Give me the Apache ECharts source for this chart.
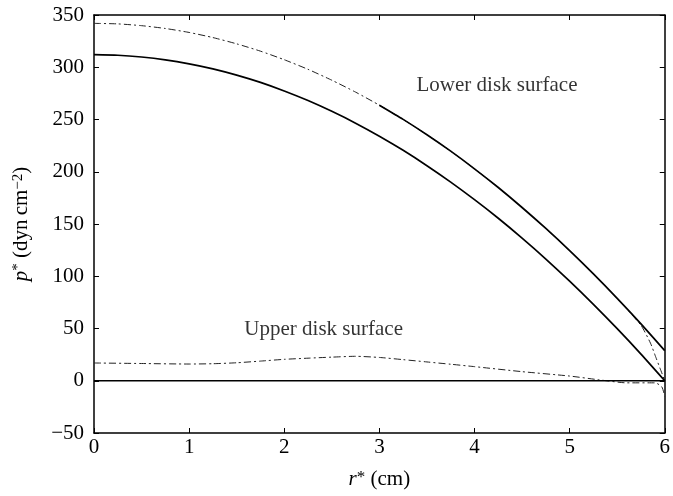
<!DOCTYPE html>
<html>
<head>
<meta charset="utf-8">
<script src="https://cdn.jsdelivr.net/npm/echarts@6/dist/echarts.min.js"></script>
<style>html,body{margin:0;padding:0;background:#fff}#c{width:673px;height:496px}</style>
</head>
<body>
<div id="c"></div>
<script>
// r* (cm) positions and p* values
var rGrid = [0, 0.25, 0.5, 0.75, 1, 1.25, 1.5, 1.75, 2, 2.25, 2.5, 2.75, 3, 3.25, 3.5, 3.75, 4, 4.25, 4.5, 4.75, 5, 5.25, 5.5, 5.75, 6];
var lowerInnerSolid = [312, 311.5, 309.8, 307.1, 303.3, 298.5, 292.5, 285.5, 277.3, 268.1, 257.8, 246.5, 234, 220.5, 205.8, 190.1, 173.3, 155.5, 136.5, 116.5, 95.3, 73.1, 49.8, 25.5, 0];

var rOuterSolid = [3, 3.25, 3.5, 3.75, 4, 4.25, 4.5, 4.75, 5, 5.25, 5.5, 5.75, 6];
var lowerOuterSolid = [263.7, 250.1, 235.4, 219.7, 202.8, 184.9, 165.8, 145.7, 124.5, 102.2, 78.8, 54.4, 28.8];

var rOuterDash = [0, 0.25, 0.5, 0.75, 1, 1.25, 1.5, 1.75, 2, 2.25, 2.5, 2.75, 3, 3.25, 3.5, 3.75, 4, 4.25, 4.5, 4.75, 5, 5.25, 5.5, 5.75, 5.85, 5.9, 5.95, 6];
var lowerOuterDash = [342, 341.5, 339.8, 337.1, 333.3, 328.4, 322.4, 315.4, 307.2, 298, 287.6, 276.2, 263.7, 250.1, 235.4, 219.7, 202.8, 184.9, 165.8, 145.7, 124.5, 102.2, 78.8, 53, 36, 24, 12, 0];

var rUpperDash = [0, 0.5, 1, 1.25, 1.5, 1.75, 2, 2.25, 2.5, 2.75, 3, 3.25, 3.5, 3.75, 4, 4.5, 5, 5.3, 5.6, 5.9, 5.97, 6];
var upperDash = [17, 16.5, 16, 16.3, 17.2, 18.8, 20.5, 21.6, 22.6, 23.4, 22.3, 20.2, 18, 15.8, 13.5, 8.7, 4.5, 1, -2, -2, -6, -15];

var rUpperSolid = [0, 6];
var upperSolid = [0, 0];

var xTicks = [0, 1, 2, 3, 4, 5, 6];
var yTicks = [-50, 0, 50, 100, 150, 200, 250, 300, 350];

var labelLower = 'Lower disk surface';
var labelUpper = 'Upper disk surface';
var labelPos = [[3.38, 283], [1.57, 49]];

function pairs(xs, ys) { return xs.map(function (x, i) { return [x, ys[i]]; }); }

var FONT = '"Liberation Serif", "Times New Roman", serif';
var chart = echarts.init(document.getElementById('c'), null, { renderer: 'canvas' });

var axisLine = { show: true, onZero: false, lineStyle: { color: '#000', width: 1.5 } };
var tick = { show: true, inside: true, length: 5, lineStyle: { color: '#000', width: 1 } };

var solid = { color: '#000', width: 1.7, type: 'solid' };
var dash = { color: '#222', width: 1, type: [7, 3, 2, 3] };

function line(xs, ys, style, z) {
  return { type: 'line', data: pairs(xs, ys), showSymbol: false, smooth: 0.2, lineStyle: style, z: z, silent: true };
}

chart.setOption({
  animation: false,
  backgroundColor: '#fff',
  grid: { left: 94, right: 3, top: 15, bottom: 63, containLabel: false },
  xAxis: [{
    type: 'value', min: xTicks[0], max: xTicks[xTicks.length - 1], interval: 1,
    axisLine: axisLine, axisTick: tick, splitLine: { show: false },
    axisLabel: { color: '#000', fontFamily: FONT, fontSize: 21, margin: 4 },
    name: '{i|r}{s|*} (cm)', nameLocation: 'middle', nameGap: 36,
    nameTextStyle: { color: '#000', fontFamily: FONT, fontSize: 21,
      rich: { i: { fontStyle: 'italic', fontFamily: FONT, fontSize: 21 }, s: { fontFamily: FONT, fontSize: 17, verticalAlign: 'top' } } }
  }, {
    type: 'value', position: 'top', min: xTicks[0], max: xTicks[xTicks.length - 1], interval: 1,
    axisLine: axisLine, axisTick: tick, axisLabel: { show: false }, splitLine: { show: false }
  }],
  yAxis: [{
    type: 'value', min: yTicks[0], max: yTicks[yTicks.length - 1], interval: 50,
    axisLine: axisLine, axisTick: tick, splitLine: { show: false },
    axisLabel: { color: '#000', fontFamily: FONT, fontSize: 21, margin: 10,
      formatter: function (v) { return v < 0 ? '\u2212' + Math.abs(v) : String(v); } },
    name: '{i|p}{s|*} (dyn\u2009cm{s|\u22122})', nameLocation: 'middle', nameGap: 62, nameRotate: 90,
    nameTextStyle: { color: '#000', fontFamily: FONT, fontSize: 21,
      rich: { i: { fontStyle: 'italic', fontFamily: FONT, fontSize: 21 }, s: { fontFamily: FONT, fontSize: 15, verticalAlign: 'top' } } }
  }, {
    type: 'value', position: 'right', min: yTicks[0], max: yTicks[yTicks.length - 1], interval: 50,
    axisLine: axisLine, axisTick: tick, axisLabel: { show: false }, splitLine: { show: false }
  }],
  series: [
    line(rOuterDash, lowerOuterDash, dash, 2),
    line(rUpperDash, upperDash, dash, 2),
    line(rGrid, lowerInnerSolid, solid, 3),
    line(rOuterSolid, lowerOuterSolid, solid, 3),
    line(rUpperSolid, upperSolid, solid, 3),
    {
      type: 'scatter', silent: true, z: 5, symbol: 'circle', symbolSize: 2,
      itemStyle: { color: 'rgba(255,255,255,0)', borderWidth: 0 },
      data: [
        { value: labelPos[0], name: labelLower },
        { value: labelPos[1], name: labelUpper }
      ],
      label: { show: true, position: 'right', distance: 0, formatter: '{b}', color: '#000', fontFamily: FONT, fontSize: 21 },
      labelLayout: { hideOverlap: false }
    }
  ]
});
</script>
</body>
</html>
